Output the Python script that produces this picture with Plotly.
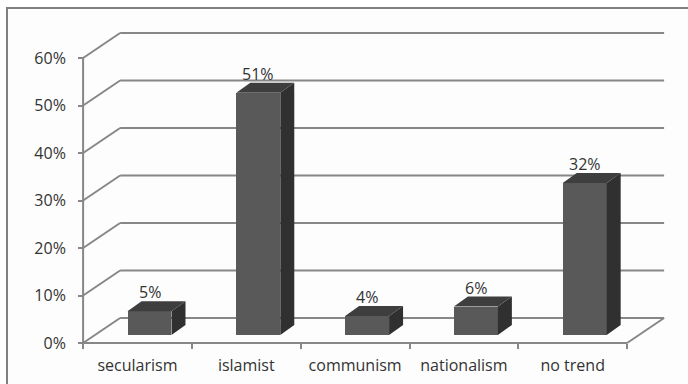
import plotly.graph_objects as go

# ---- data ----
categories = ["secularism", "islamist", "communism", "nationalism", "no trend"]
values = [5, 51, 4, 6, 32]
y_ticks = [0, 10, 20, 30, 40, 50, 60]
y_tick_labels = [f"{v}%" for v in y_ticks]

# ---- geometry / style ----
W, H = 688, 384
ML, MR, MT, MB = 70, 10, 20, 30
PX_CAT = 108.8      # pixels per category
X0PIX = 137.5       # pixel of category 0 centre
PX_PCT = 4.75       # pixels per percent
Y0PIX = 343         # pixel of 0 %

x_range = [(ML - X0PIX) / PX_CAT, (W - MR - X0PIX) / PX_CAT]
y_range = [(Y0PIX - (H - MB)) / PX_PCT, (Y0PIX - MT) / PX_PCT]

DX = 37 / PX_CAT     # depth of the wall (x units)
DY = 25 / PX_PCT     # depth of the wall (y units)
OFFX = 12 / PX_CAT   # bar shift into depth
OFFY = 8 / PX_PCT
BW = 0.404           # bar width
BDX = 14 / PX_CAT    # bar depth
BDY = 10 / PX_PCT

GRID = "#878787"
FRONT = "#595959"
TOP = "#3e3e3e"
SIDE = "#303030"
TXT = "#333333"
FONT = "Open Sans"

n = len(categories)
xl = -0.5
xr = n - 0.5

fig = go.Figure()

shapes = []
# outer border
shapes.append(dict(type="rect", xref="paper", yref="paper",
                   x0=(7 - ML) / (W - ML - MR), y0=-0.3,
                   x1=1.2, y1=(H - MB - 8) / (H - MT - MB),
                   line=dict(color="#808080", width=2), fillcolor="#fdfdfd",
                   layer="below"))
# grid: front diagonal + back horizontal
for v in y_ticks:
    shapes.append(dict(type="line", xref="x", yref="y", x0=xl, y0=v,
                       x1=xl + DX, y1=v + DY, line=dict(color=GRID, width=2),
                       layer="below"))
    shapes.append(dict(type="line", xref="x", yref="y", x0=xl + DX, y0=v + DY,
                       x1=xr + DX, y1=v + DY, line=dict(color=GRID, width=2),
                       layer="below"))
# front vertical axis
shapes.append(dict(type="line", xref="x", yref="y", x0=xl, y0=0, x1=xl,
                   y1=y_ticks[-1], line=dict(color=GRID, width=2), layer="below"))
# floor front and right edges
shapes.append(dict(type="line", xref="x", yref="y", x0=xl, y0=0, x1=xr, y1=0,
                   line=dict(color=GRID, width=2), layer="below"))
shapes.append(dict(type="line", xref="x", yref="y", x0=xr, y0=0, x1=xr + DX,
                   y1=DY, line=dict(color=GRID, width=2), layer="below"))

# front faces of the bars
fig.add_trace(go.Bar(
    x=[i + OFFX for i in range(n)], y=values, base=[OFFY] * n, width=BW,
    marker=dict(color=FRONT, line=dict(width=0)), hoverinfo="skip",
    showlegend=False))

annotations = []
for i, v in enumerate(values):
    x0 = i + OFFX - BW / 2
    x1 = i + OFFX + BW / 2
    top = v + OFFY
    # side face
    fig.add_trace(go.Scatter(
        x=[x1, x1 + BDX, x1 + BDX, x1, x1],
        y=[OFFY, OFFY + BDY, top + BDY, top, OFFY],
        fill="toself", fillcolor=SIDE, mode="lines",
        line=dict(width=0, color=SIDE), hoverinfo="skip", showlegend=False))
    # top face
    fig.add_trace(go.Scatter(
        x=[x0, x1, x1 + BDX, x0 + BDX, x0],
        y=[top, top, top + BDY, top + BDY, top],
        fill="toself", fillcolor=TOP, mode="lines",
        line=dict(width=0, color=TOP), hoverinfo="skip", showlegend=False))
    annotations.append(dict(x=i + OFFX, y=top + BDY, xref="x", yref="y",
                            text=f"{v}%", showarrow=False, yanchor="bottom",
                            yshift=-4, font=dict(family=FONT, size=16, color=TXT)))

fig.update_layout(
    width=W, height=H,
    margin=dict(l=ML, r=MR, t=MT, b=MB, autoexpand=False),
    paper_bgcolor="white", plot_bgcolor="rgba(0,0,0,0)",
    shapes=shapes, annotations=annotations,
    font=dict(family=FONT, size=16, color=TXT),
    xaxis=dict(range=x_range, anchor="free", automargin=False,
               position=(H - MB - Y0PIX) / (H - MT - MB),
               tickmode="array", tickvals=list(range(n)), ticktext=categories,
               ticks="", showgrid=False, zeroline=False, showline=False,
               ticklabelstandoff=11,
               minor=dict(tickmode="array",
                          tickvals=[i + 0.5 for i in range(-1, n)],
                          ticks="outside", ticklen=5, tickwidth=2,
                          tickcolor=GRID, showgrid=False),
               fixedrange=True),
    yaxis=dict(range=y_range, anchor="free", automargin=False,
               position=(xl * PX_CAT + X0PIX - ML) / (W - ML - MR),
               tickmode="array", tickvals=y_ticks, ticktext=y_tick_labels,
               ticks="outside", ticklen=5, tickwidth=2, tickcolor=GRID,
               showgrid=False, zeroline=False, showline=False,
               ticklabelstandoff=9, fixedrange=True),
    bargap=0,
)

fig.write_html("out.html")
